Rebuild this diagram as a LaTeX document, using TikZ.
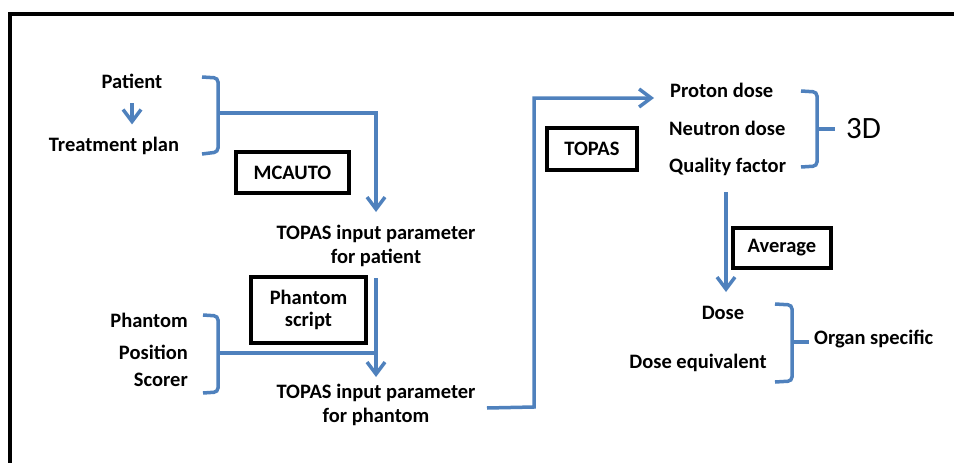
\documentclass[tikz,border=0pt]{standalone}
\usepackage{fontspec}
\setmainfont{Carlito}
\usetikzlibrary{arrows.meta}
\definecolor{ablue}{HTML}{4F81BD}
\begin{document}
\begin{tikzpicture}[x=1pt,y=-1pt,
  lbl/.style={inner sep=0pt, font=\fontsize{20.5}{24}\selectfont\bfseries, align=center},
  box/.style={draw=black, line width=3.5pt, inner sep=0pt, font=\fontsize{20.5}{22}\selectfont\bfseries, align=center},
  conn/.style={draw=ablue, line width=3.5pt},
  arr/.style={conn, -{Straight Barb[length=12pt,width=18pt]}},
  brace/.style={conn, rounded corners=4pt}]
\useasboundingbox (0,0) rectangle (954,463);
% frame
\draw[line width=3.5pt] (10,470) -- (10,14) -- (960,14);

% left top group
\node[lbl, anchor=base] (patient) at (132,88) {Patient};
\node[lbl, anchor=base] (plan) at (114,151) {Treatment plan};
\draw[arr, shorten <=15pt, shorten >=12pt] (patient.base) -- (patient.base |- plan.north);

\draw[brace] (202,77) -- (218,78) -- (218,152) -- (202,154);
\coordinate (b1) at (218,113);
\coordinate (t1in) at (376,212);
\draw[arr] (b1) -| (t1in);

\node[box, minimum width=113pt, minimum height=41pt] (mcauto) at (292.5,172.5) {MCAUTO};

\node[lbl, anchor=base] (tin1) at (376,263) {TOPAS input parameter\\for patient};

% phantom group
\node[box, minimum width=115pt, minimum height=66pt] (pscript) at (308.5,310) {Phantom\\script};
\node[lbl, anchor=base east] (phantom) at (188,327) {Phantom};
\node[lbl, anchor=base east] (position) at (188,359) {Position};
\node[lbl, anchor=base east] (scorer) at (188,386) {Scorer};
\draw[brace] (203,315) -- (218,316) -- (218,392) -- (203,393);
\coordinate (b2) at (218,353);
\coordinate (t1out) at (376,278);
\coordinate (t2in) at (376,377);
\coordinate (j2) at (376,353);
\draw[conn] (b2) -- (j2);
\draw[arr] (t1out) -- (t2in);

\node[lbl, anchor=base] (tin2) at (376,422) {TOPAS input parameter\\for phantom};

% TOPAS connector
\coordinate (t2out) at (487,408);
\coordinate (c1) at (534,407);
\coordinate (c2) at (534,98);
\coordinate (pin) at (654,98);
\draw[arr] (t2out) -- (c1) -- (c2) -- (pin);
\node[box, minimum width=90pt, minimum height=42pt] (topas) at (592,149) {TOPAS};

% right top group
\node[lbl, anchor=base west] (proton) at (670,97) {Proton dose};
\node[lbl, anchor=base west] (neutron) at (669,135) {Neutron dose};
\node[lbl, anchor=base west] (quality) at (669,172) {Quality factor};
\draw[brace] (801,91) -- (817,92) -- (817,166) -- (801,167);
\draw[conn] (817,129) -- (835,129);
\node[inner sep=0pt, anchor=base west, font=\fontsize{31}{36}\selectfont] (threeD) at (846,138) {3D};

% average
\coordinate (q1) at (726,192);
\coordinate (d1) at (726,292);
\draw[arr] (q1) -- (d1);
\node[box, minimum width=98pt, minimum height=40pt] (average) at (782,248) {Average};

% bottom right group
\node[lbl, anchor=base] (dose) at (723,319) {Dose};
\node[lbl, anchor=base] (doseeq) at (698,368) {Dose equivalent};
\draw[brace] (775,304) -- (792,305) -- (792,381) -- (775,382);
\draw[conn] (792,342) -- (809,342);
\node[lbl, anchor=base west] (organ) at (814,344) {Organ specific};
\end{tikzpicture}
\end{document}
